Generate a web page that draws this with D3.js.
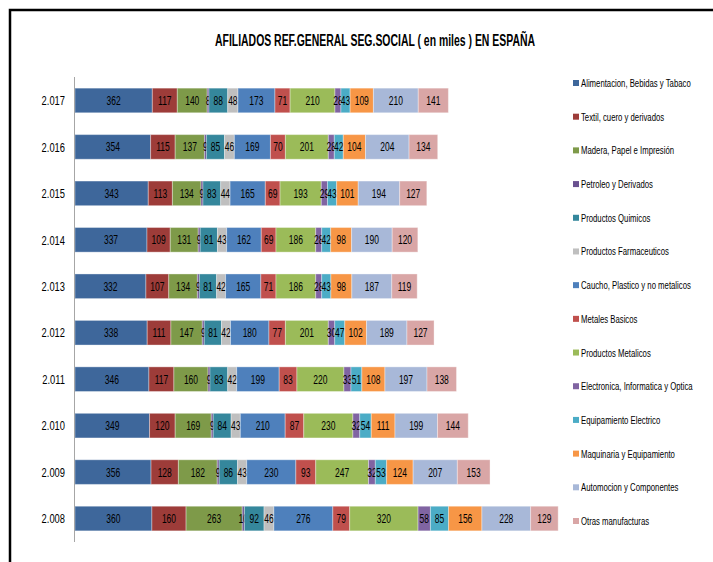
<!DOCTYPE html>
<html>
<head>
<meta charset="utf-8">
<script src="https://cdn.jsdelivr.net/npm/d3@7"></script>
<style>
    body { margin: 0; background: #fff; }
    svg text { font-family: "Liberation Sans", Arial, sans-serif; }
</style>
</head>
<body>
<svg id="chart" width="713" height="562"></svg>
<script>
'use strict'

var years = ['2.017', '2.016', '2.015', '2.014', '2.013', '2.012', '2.011', '2.010', '2.009', '2.008'];

var sectores = [
    'Alimentacion, Bebidas y Tabaco', 'Textil, cuero y derivados', 'Madera, Papel e Impresión',
    'Petroleo y Derivados', 'Productos Quimicos', 'Productos Farmaceuticos',
    'Caucho, Plastico y no metalicos', 'Metales Basicos', 'Productos Metalicos',
    'Electronica, Informatica y Optica', 'Equipamiento Electrico', 'Maquinaria y Equipamiento',
    'Automocion y Componentes', 'Otras manufacturas'];

// one row per year, same order as sectores
var v2017 = [362, 117, 140, 8, 88, 48, 173, 71, 210, 28, 43, 109, 210, 141];
var v2016 = [354, 115, 137, 9, 85, 46, 169, 70, 201, 28, 42, 104, 204, 134];
var v2015 = [343, 113, 134, 9, 83, 44, 165, 69, 193, 29, 43, 101, 194, 127];
var v2014 = [337, 109, 131, 9, 81, 43, 162, 69, 186, 28, 42, 98, 190, 120];
var v2013 = [332, 107, 134, 9, 81, 42, 165, 71, 186, 28, 43, 98, 187, 119];
var v2012 = [338, 111, 147, 9, 81, 42, 180, 77, 201, 30, 47, 102, 189, 127];
var v2011 = [346, 117, 160, 9, 83, 42, 199, 83, 220, 33, 51, 108, 197, 138];
var v2010 = [349, 120, 169, 9, 84, 43, 210, 87, 230, 32, 54, 111, 199, 144];
var v2009 = [356, 128, 182, 9, 86, 43, 230, 93, 247, 32, 53, 124, 207, 153];
var v2008 = [360, 160, 263, 10, 92, 46, 276, 79, 320, 58, 85, 156, 228, 129];

var valores = [v2017, v2016, v2015, v2014, v2013, v2012, v2011, v2010, v2009, v2008];

var colores = ['#3e679b', '#9d3c39', '#7e9a49', '#6a5190', '#35879c', '#bfbfbf', '#4e80bc',
               '#c0504d', '#9bbb59', '#8064a2', '#4bacc6', '#f79646', '#a8b8d8', '#d9a6a6'];

var svg = d3.select('#chart');

// the original font is very narrow, so squeeze text horizontally
function squeeze(sx){
    return function(x, y){ return 'translate(' + x + ',' + y + ') scale(' + sx + ',1)'; };
}
var labelT = squeeze(0.68), yearT = squeeze(0.72), legT = squeeze(0.675);

// outer frame (runs off the right and bottom of the picture)
svg.append('rect')
    .attr('x', 10).attr('y', 10)
    .attr('width', 730).attr('height', 580)
    .attr('fill', 'none').attr('stroke', '#000').attr('stroke-width', 2.5);

svg.append('text')
    .attr('x', 375).attr('y', 46)
    .attr('text-anchor', 'middle')
    .attr('textLength', 320).attr('lengthAdjust', 'spacingAndGlyphs')
    .style('font-size', '16px').style('font-weight', 'bold')
    .text('AFILIADOS REF.GENERAL SEG.SOCIAL  ( en miles ) EN ESPAÑA');

var x = d3.scaleLinear().domain([0, 2500]).range([75, 609]);
var y = d3.scaleBand().domain(years).range([77, 542]).paddingInner(0.47).paddingOuter(0.24);

var data = [];
years.forEach(function(yr, i){
    var acc = 0;
    valores[i].forEach(function(v, j){
        data.push({ "year": yr, "s": j, "x0": acc, "x1": acc + v, "v": v });
        acc += v;
    });
});

var seg = svg.append('g').selectAll('g').data(data).join('g');

seg.append('rect')
    .attr('x', function(d){ return x(d.x0); })
    .attr('y', function(d){ return y(d.year); })
    .attr('width', function(d){ return x(d.x1) - x(d.x0); })
    .attr('height', y.bandwidth())
    .attr('fill', function(d){ return colores[d.s]; })
    .attr('stroke', '#fff').attr('stroke-opacity', 0.35).attr('stroke-width', 1);

seg.append('text')
    .attr('transform', function(d){
        return labelT((x(d.x0) + x(d.x1)) / 2, y(d.year) + y.bandwidth() / 2);
    })
    .attr('dy', '0.36em')
    .attr('text-anchor', 'middle')
    .style('font-size', '12.5px').attr('fill', '#000')
    .text(function(d){ return d.v; });

// category axis
svg.append('line')
    .attr('x1', 74.5).attr('x2', 74.5).attr('y1', 77).attr('y2', 542)
    .attr('stroke', '#a6a6a6').attr('stroke-width', 1);

svg.append('g').selectAll('text').data(years).join('text')
    .attr('transform', function(d){ return yearT(65, y(d) + y.bandwidth() / 2); })
    .attr('dy', '0.36em')
    .attr('text-anchor', 'end')
    .style('font-size', '13px').attr('fill', '#000')
    .text(function(d){ return d; });

// legend
var ly = d3.scalePoint().domain(sectores).range([83, 521]);

var leg = svg.append('g').selectAll('g').data(sectores).join('g')
    .attr('transform', function(d){ return 'translate(573,' + ly(d) + ')'; });

leg.append('rect')
    .attr('x', 0).attr('y', -3).attr('width', 6).attr('height', 6)
    .attr('fill', function(d, i){ return colores[i]; });

leg.append('text')
    .attr('transform', legT(8, 0))
    .attr('dy', '0.35em')
    .style('font-size', '11.5px').attr('fill', '#000')
    .text(function(d){ return d; });
</script>
</body>
</html>
